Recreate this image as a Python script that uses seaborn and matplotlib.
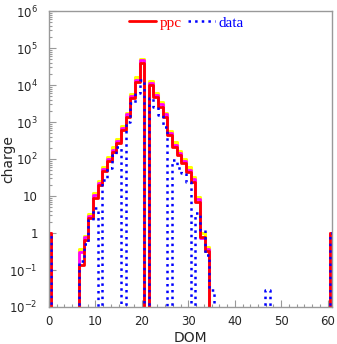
import numpy as np
import pandas as pd
import matplotlib
matplotlib.use("Agg")
import matplotlib.pyplot as plt
import seaborn as sns
from matplotlib.ticker import FixedLocator, FixedFormatter, LogLocator, MultipleLocator, NullFormatter
from matplotlib.lines import Line2D

# DOM number (0 and 61 are under/overflow bins)
dom = list(range(62))

# ppc simulation (red)
ppc = [1, 0, 0, 0, 0, 0, 0,
       0.14, 0.65, 2.5, 9, 20, 47, 88, 158, 265, 600, 1400, 4400, 12300, 40000,
       0,
       10000, 4800, 2600, 1400, 440, 215, 128, 76, 45, 24, 7, 0.8, 0.32] + [0] * 26 + [1]

# ppc variants (magenta, yellow)
ppc_mag = [1, 0, 0, 0, 0, 0, 0,
           0.30, 0.78, 2.9, 10.5, 23, 54, 100, 180, 300, 690, 1600, 5000, 14000, 46000,
           0,
           11500, 5500, 3000, 1600, 510, 245, 148, 88, 52, 28, 8.2, 0.75, 0.36] + [0] * 26 + [1]
ppc_yel = [1, 0, 0, 0, 0, 0, 0,
           0.36, 0.85, 3.3, 12, 26, 61, 113, 205, 340, 780, 1800, 5700, 16000, 52000,
           0,
           13000, 6200, 3400, 1800, 580, 280, 168, 100, 59, 32, 9.3, 1.0, 0.42] + [0] * 26 + [1]

# measured data (blue dotted)
data = [1, 0, 0, 0, 0, 0, 0,
        0.18, 0.52, 2.2, 4.8, 0, 27, 56, 129, 214, 0, 1020, 3170, 6000, 13800,
        0,
        4400, 2560, 1550, 740, 0, 94, 56, 41, 24, 0, 3.4, 1.2, 0.26, 0.029] \
       + [0] * 11 + [0.029] + [0] * 13 + [1]

ytick_vals = [1e-2, 1e-1, 1, 10, 1e2, 1e3, 1e4, 1e5, 1e6]
ytick_labels = [r"$10^{-2}$", r"$10^{-1}$", "1", "10", r"$10^{2}$", r"$10^{3}$",
                r"$10^{4}$", r"$10^{5}$", r"$10^{6}$"]

sns.set_theme(style="white")
plt.rcParams["font.family"] = ["DejaVu Sans"]
plt.rcParams["mathtext.fontset"] = "dejavusans"

fig = plt.figure(figsize=(3.37, 3.44), dpi=100)
ax = fig.add_axes([49 / 337, 1 - 307 / 344, (332.3 - 49) / 337, (307 - 11) / 344])

edges = [e - 0.5 for e in range(63)]
df = pd.DataFrame({"dom": dom, "ppc": ppc, "mag": ppc_mag, "yel": ppc_yel, "data": data})

sns.histplot(data=df, x="dom", weights="yel", bins=edges, element="step", fill=False,
             color="#ffff00", linewidth=2.2, ax=ax)
sns.histplot(data=df, x="dom", weights="mag", bins=edges, element="step", fill=False,
             color="#ff00ff", linewidth=2.0, ax=ax)
sns.histplot(data=df, x="dom", weights="ppc", bins=edges, element="step", fill=False,
             color="#ff0000", linewidth=2.0, ax=ax)
sns.histplot(data=df, x="dom", weights="data", bins=edges, element="step", fill=False,
             color="#0000ff", linewidth=1.8, linestyle=":", ax=ax)

ax.set_yscale("log")
ax.set_xlim(0, 61)
ax.set_ylim(1e-2, 1e6)

ax.yaxis.set_major_locator(FixedLocator(ytick_vals))
ax.yaxis.set_major_formatter(FixedFormatter(ytick_labels))
ax.yaxis.set_minor_locator(LogLocator(base=10, subs=np.arange(2, 10), numticks=20))
ax.yaxis.set_minor_formatter(NullFormatter())
ax.xaxis.set_major_locator(MultipleLocator(10))
ax.xaxis.set_minor_locator(MultipleLocator(10 / 6))

for s in ax.spines.values():
    s.set_color("#999999")
    s.set_linewidth(1.0)
ax.tick_params(axis="both", which="both", direction="in", color="#999999",
               bottom=True, left=True, top=False, right=False, labelsize=8.5)
ax.tick_params(axis="both", which="major", length=5, width=0.8)
ax.tick_params(axis="both", which="minor", length=2.5, width=0.8)
ax.tick_params(axis="y", pad=8)
ax.tick_params(axis="x", pad=6)

ax.set_xlabel("DOM", fontsize=10, labelpad=2)
ax.set_ylabel("charge", fontsize=10)
ax.yaxis.set_label_coords(-0.118, 0.5)

handles = [Line2D([], [], color="#ff0000", linewidth=2),
           Line2D([], [], color="#0000ff", linewidth=1.8, linestyle=":")]
leg = ax.legend(handles, ["ppc", "data"], loc="center", bbox_to_anchor=(0.485, 0.96),
                ncol=2, frameon=False, handlelength=1.8, handletextpad=0.25,
                columnspacing=0.35, prop={"family": "Liberation Serif", "size": 11})
for t, c in zip(leg.get_texts(), ["#ff0000", "#0000ff"]):
    t.set_color(c)

fig.savefig("out.png", dpi=100)
